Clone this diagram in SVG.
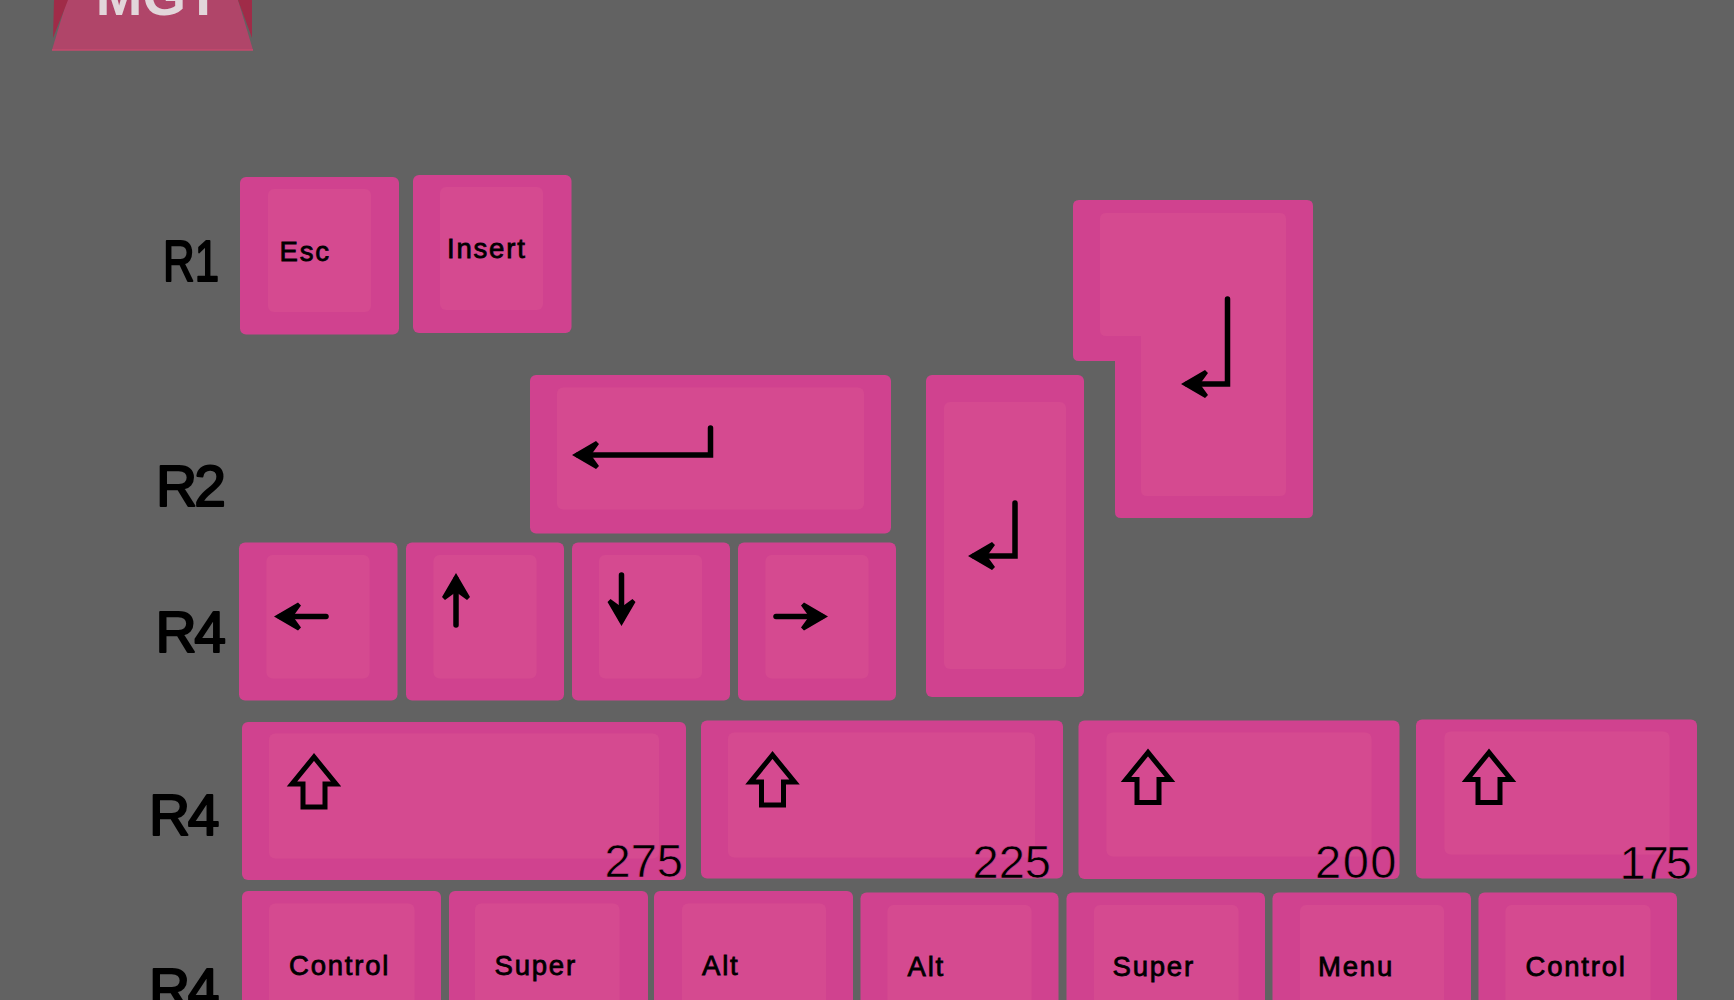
<svg xmlns="http://www.w3.org/2000/svg" width="1734" height="1000" viewBox="0 0 1734 1000">
<style>
.o{fill:#d0428f}.i{fill:#d54a90}
.row{font:400 57px "Liberation Sans",Arial,sans-serif;fill:#000;stroke:#000;stroke-width:2;stroke-linejoin:round}
.lb{font:400 27.5px "Liberation Sans",Arial,sans-serif;fill:#000;stroke:#000;stroke-width:.8;letter-spacing:1.8px}
.n{font:400 47px "Liberation Sans",Arial,sans-serif;fill:#000;text-anchor:end;stroke:#d2458f;stroke-width:.6}
.a{fill:none;stroke:#000;stroke-width:5.500;stroke-linecap:round;stroke-linejoin:miter}
.s{fill:none;stroke:#000;stroke-width:5;stroke-linejoin:miter}
</style>
<defs>
<marker id="h" markerUnits="userSpaceOnUse" viewBox="-1 -16 32 32" refX="22" refY="0" markerWidth="32" markerHeight="32" orient="auto">
<path d="M28 0L4 -14L1 -11L9 0L1 11L4 14Z" fill="#000"/>
</marker>
<path id="shift" d="M0 0L-22 27H-11V50H11V27H22Z"/>
</defs>
<rect width="1734" height="1000" fill="#626262"/>
<g id="key-mgt">
<path d="M52 50L67 0H238L253 50Z" fill="#b04569"/>
<path d="M54 0H68L53 38Z" fill="#a02b48"/>
<path d="M238 0H252L252 38Z" fill="#a02b48"/>
<path d="M52 50H253" fill="none" stroke="#c64a6e" stroke-width="1.500"/>
<text x="158" y="15" text-anchor="middle" font-family="Liberation Sans, Arial, sans-serif" font-weight="700" font-size="56" fill="#e2d6da">MGT</text>
</g>
<g id="row-labels">
<text class="row" x="163" y="281" textLength="56" lengthAdjust="spacingAndGlyphs">R1</text>
<text class="row" x="156" y="505.500" letter-spacing="-3">R2</text>
<text class="row" x="155.500" y="652" letter-spacing="-2.500">R4</text>
<text class="row" x="149" y="835" letter-spacing="-2.500">R4</text>
<text class="row" x="149" y="1009" letter-spacing="-2.500">R4</text>
</g>
<g id="key-esc"><rect class="o" x="240" y="177" width="159" height="157.500" rx="6"/><rect class="i" x="268" y="189" width="103" height="123" rx="6"/><text class="lb" x="279.500" y="261">Esc</text></g>
<g id="key-insert"><rect class="o" x="413" y="175" width="158.500" height="158" rx="6"/><rect class="i" x="440" y="187" width="103" height="123" rx="6"/><text class="lb" x="447" y="258">Insert</text></g>
<g id="key-enter-iso"><path class="o" d="M1079 200H1307Q1313 200 1313 206V512Q1313 518 1307 518H1121Q1115 518 1115 512V361H1079Q1073 361 1073 355V206Q1073 200 1079 200Z"/><path class="i" d="M1106 213H1280Q1286 213 1286 219V490Q1286 496 1280 496H1147Q1141 496 1141 490V336H1106Q1100 336 1100 330V219Q1100 213 1106 213Z"/></g>
<g id="key-backspace"><rect class="o" x="530" y="375" width="361" height="158.500" rx="6"/><rect class="i" x="557" y="387.500" width="307" height="122" rx="6"/></g>
<g id="key-enter-tall"><rect class="o" x="926" y="375" width="158" height="322" rx="6"/><rect class="i" x="944" y="402" width="122" height="267" rx="6"/></g>
<g id="key-left"><rect class="o" x="239" y="542.500" width="158.500" height="158" rx="6"/><rect class="i" x="266.500" y="555" width="103" height="123.500" rx="6"/></g>
<g id="key-up"><rect class="o" x="406" y="542.500" width="158" height="158" rx="6"/><rect class="i" x="433.500" y="555" width="103" height="123.500" rx="6"/></g>
<g id="key-down"><rect class="o" x="572" y="542.500" width="158" height="158" rx="6"/><rect class="i" x="599" y="555" width="103" height="123.500" rx="6"/></g>
<g id="key-right"><rect class="o" x="738" y="542.500" width="158" height="158" rx="6"/><rect class="i" x="765.500" y="555" width="103" height="123.500" rx="6"/></g>
<g id="key-shift-275"><rect class="o" x="242" y="722" width="444" height="158" rx="6"/><rect class="i" x="269" y="733.500" width="390" height="125" rx="6"/><text class="n" x="683" y="877">275</text></g>
<g id="key-shift-225"><rect class="o" x="701" y="720.500" width="362" height="158" rx="6"/><rect class="i" x="728" y="732.500" width="307" height="125" rx="6"/><text class="n" x="1051" y="878">225</text></g>
<g id="key-shift-200"><rect class="o" x="1078.500" y="720.500" width="321" height="158.500" rx="6"/><rect class="i" x="1106.500" y="732.500" width="265" height="124" rx="6"/><text class="n" x="1398" y="878" letter-spacing="1.500">200</text></g>
<g id="key-shift-175"><rect class="o" x="1416" y="719.500" width="281" height="159" rx="6"/><rect class="i" x="1444.500" y="731.500" width="225" height="123" rx="6"/><text class="n" x="1689" y="879" letter-spacing="-3">175</text></g>
<g id="key-control-l"><rect class="o" x="242" y="891" width="199" height="158" rx="6"/><rect class="i" x="269" y="903.500" width="145.500" height="124" rx="6"/><text class="lb" x="289" y="975">Control</text></g>
<g id="key-super-l"><rect class="o" x="449" y="891" width="199" height="158" rx="6"/><rect class="i" x="475" y="903.500" width="144.500" height="124" rx="6"/><text class="lb" x="494.500" y="975">Super</text></g>
<g id="key-alt-l"><rect class="o" x="654" y="891" width="199" height="158" rx="6"/><rect class="i" x="682" y="903.500" width="144" height="124" rx="6"/><text class="lb" x="702" y="975">Alt</text></g>
<g id="key-alt-r"><rect class="o" x="860.500" y="892.500" width="198" height="158" rx="6"/><rect class="i" x="887.500" y="905" width="144" height="124" rx="6"/><text class="lb" x="907.500" y="976">Alt</text></g>
<g id="key-super-r"><rect class="o" x="1066.500" y="892.500" width="198.500" height="158" rx="6"/><rect class="i" x="1094" y="905" width="144.500" height="124" rx="6"/><text class="lb" x="1112.500" y="976">Super</text></g>
<g id="key-menu"><rect class="o" x="1272.500" y="892.500" width="198.500" height="158" rx="6"/><rect class="i" x="1300" y="905" width="144" height="124" rx="6"/><text class="lb" x="1318" y="976">Menu</text></g>
<g id="key-control-r"><rect class="o" x="1478.500" y="892.500" width="198.500" height="158" rx="6"/><rect class="i" x="1505.500" y="905" width="145" height="124" rx="6"/><text class="lb" x="1525.500" y="976">Control</text></g>
<g id="connectors">
<path class="a" marker-end="url(#h)" d="M710.500 428V455H578"/>
<path class="a" marker-end="url(#h)" d="M1015 503V556H974"/>
<path class="a" marker-end="url(#h)" d="M1227.500 299V384H1187"/>
<path class="a" marker-end="url(#h)" d="M621.500 575V620"/>
<path class="a" marker-end="url(#h)" d="M456 625V579"/>
<path class="a" marker-end="url(#h)" d="M326 616.500H280"/>
<path class="a" marker-end="url(#h)" d="M776 616.500H822"/>
<use href="#shift" class="s" x="314" y="757"/>
<use href="#shift" class="s" x="772.500" y="755"/>
<use href="#shift" class="s" x="1148" y="752.500"/>
<use href="#shift" class="s" x="1489" y="752.500"/>
</g>
</svg>
